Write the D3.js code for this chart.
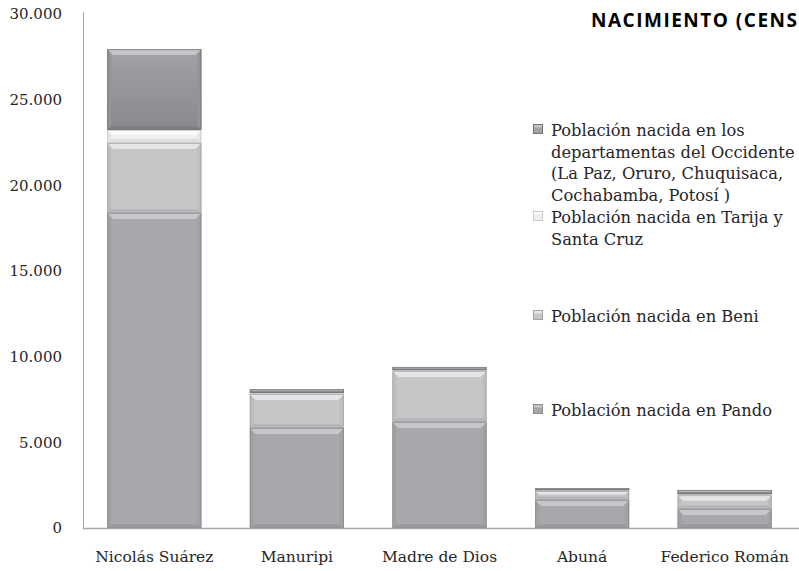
<!DOCTYPE html>
<html>
<head>
<meta charset="utf-8">
<script src="https://cdn.jsdelivr.net/npm/d3@7"></script>
<style>
  html, body { margin: 0; padding: 0; background: #fff; overflow: hidden; }
  svg { display: block; }
</style>
</head>
<body>
<svg id="chart" width="799" height="571"></svg>
<script>
// ---- data ----
const categories = ["Nicolás Suárez", "Manuripi", "Madre de Dios", "Abuná", "Federico Román"];
const pando     = [18390, 5840, 6190, 1630, 1110];
const beni      = [4080, 1980, 2980, 530, 810];
const tarija    = [760, 60, 40, 40, 50];
const occidente = [4720, 230, 190, 130, 250];
const yTicks = [0, 5000, 10000, 15000, 20000, 25000, 30000];
const seriesNames = [
  "Población nacida en Pando",
  "Población nacida en Beni",
  "Población nacida en Tarija y Santa Cruz",
  "Población nacida en los departamentas del Occidente (La Paz, Oruro, Chuquisaca, Cochabamba, Potosí )"
];
const titleText = "NACIMIENTO (CENS";

(function () {
const svg = d3.select("#chart");
const W = 799, H = 571;
const mLeft = 83, mBottom = 528, mTop = 14;
const serif = "'DejaVu Serif', serif";

const x = d3.scaleBand().domain(categories).range([mLeft, 796]).paddingInner(0.34).paddingOuter(0.17);
const y = d3.scaleLinear().domain([0, 30000]).range([mBottom, mTop]);

const keys = ["pando", "beni", "tarija", "occidente"];
const rows = categories.map((c, i) => ({cat: c, pando: pando[i], beni: beni[i], tarija: tarija[i], occidente: occidente[i]}));
const stacked = d3.stack().keys(keys)(rows);

const colors = {
  pando:     {base: "#a7a8ab", light: "#c6c7c9", dark: "#8a8b8e", side: "#a0a1a4"},
  beni:      {base: "#c5c6c8", light: "#e4e5e6", dark: "#a3a4a7", side: "#bdbec0"},
  tarija:    {base: "#eeeeef", light: "#fafafa", dark: "#c9cacc", side: "#e6e6e7"},
  occidente: {base: "#a2a3a6", light: "#c4c5c7", dark: "#737477", side: "#939497"}
};

const defs = svg.append("defs");
keys.forEach(k => {
  const g = defs.append("linearGradient").attr("id", "g_" + k).attr("x1", 0).attr("y1", 0).attr("x2", 0).attr("y2", 1);
  g.append("stop").attr("offset", "0%").attr("stop-color", colors[k].base);
  g.append("stop").attr("offset", "100%").attr("stop-color", k === "occidente" ? "#88898c" : colors[k].base);
});

// ---- axes ----
svg.append("line").attr("x1", mLeft + 0.5).attr("x2", mLeft + 0.5).attr("y1", 12).attr("y2", mBottom + 0.5)
  .attr("stroke", "#a6a6a6").attr("stroke-width", 1);

svg.append("g").selectAll("text").data(yTicks).join("text")
  .attr("x", 62).attr("y", d => y(d)).attr("dy", "0.35em")
  .attr("text-anchor", "end")
  .style("font-family", serif).style("font-size", "15px").attr("fill", "#262626")
  .text(d => d === 0 ? "0" : d3.format(",")(d).replace(/,/g, "."));

// ---- bars ----
const barG = svg.append("g");
stacked.forEach(layer => {
  const k = layer.key;
  const c = colors[k];
  layer.forEach((d, i) => {
    const x0 = x(categories[i]);
    const w = x.bandwidth();
    const y0 = y(d[1]), y1 = y(d[0]);
    const h = y1 - y0;
    if (h <= 0) return;
    const g = barG.append("g");
    g.append("rect").attr("x", x0).attr("y", y0).attr("width", w).attr("height", h).attr("fill", "url(#g_" + k + ")");
    const b = Math.min(6, h / 2.5);
    const s = Math.min(4, b);
    g.append("path").attr("d", `M${x0},${y0}L${x0 + w},${y0}L${x0 + w - b},${y0 + b}L${x0 + b},${y0 + b}Z`).attr("fill", c.light);
    g.append("path").attr("d", `M${x0},${y1}L${x0 + w},${y1}L${x0 + w - s},${y1 - s}L${x0 + s},${y1 - s}Z`).attr("fill", c.dark).attr("opacity", 0.45);
    g.append("path").attr("d", `M${x0},${y0}L${x0 + s},${y0 + b}L${x0 + s},${y1 - s}L${x0},${y1}Z`).attr("fill", c.side);
    g.append("path").attr("d", `M${x0 + w},${y0}L${x0 + w - s},${y0 + b}L${x0 + w - s},${y1 - s}L${x0 + w},${y1}Z`).attr("fill", c.side);
    g.append("rect").attr("x", x0 + 0.5).attr("y", y0 + 0.5).attr("width", w - 1).attr("height", Math.max(0, h - 1))
      .attr("fill", "none").attr("stroke", c.dark).attr("stroke-width", 1).attr("opacity", 0.75);
  });
});

svg.append("line").attr("x1", mLeft).attr("x2", W).attr("y1", mBottom + 0.5).attr("y2", mBottom + 0.5)
  .attr("stroke", "#a6a6a6").attr("stroke-width", 1.5);

svg.append("g").selectAll("text").data(categories).join("text")
  .attr("x", d => x(d) + x.bandwidth() / 2).attr("y", 557).attr("dy", "0.35em")
  .attr("text-anchor", "middle")
  .style("font-family", serif).style("font-size", "15.5px").attr("fill", "#262626")
  .text(d => d);

// ---- legend ----
const legendItems = [
  {key: "occidente", lines: ["Población nacida en los", "departamentas del Occidente", "(La Paz, Oruro, Chuquisaca,", "Cochabamba, Potosí )"], y: 130},
  {key: "tarija", lines: ["Población nacida en Tarija y", "Santa Cruz"], y: 217},
  {key: "beni", lines: ["Población nacida en Beni"], y: 316},
  {key: "pando", lines: ["Población nacida en Pando"], y: 410}
];
const lg = svg.append("g");
legendItems.forEach(it => {
  const c = colors[it.key];
  lg.append("rect").attr("x", 533.5).attr("y", it.y - 5.5).attr("width", 9).attr("height", 9).attr("fill", c.base).attr("stroke", c.dark).attr("stroke-width", 1);
  lg.append("rect").attr("x", 534).attr("y", it.y - 5).attr("width", 8).attr("height", 2.5).attr("fill", c.light);
  const t = lg.append("text").style("font-family", serif).style("font-size", "16.3px").attr("fill", "#262626");
  it.lines.forEach((ln, j) => {
    t.append("tspan").attr("x", 551).attr("y", it.y + j * 21.8).attr("dy", "0.35em").text(ln);
  });
});

svg.append("text").attr("x", 591).attr("y", 20).attr("dy", "0.36em")
  .style("font-family", "'Open Sans', sans-serif").style("font-weight", "bold").style("font-size", "19px")
  .attr("textLength", 206).attr("lengthAdjust", "spacing")
  .attr("fill", "#000").text(titleText);
})();
</script>
</body>
</html>
